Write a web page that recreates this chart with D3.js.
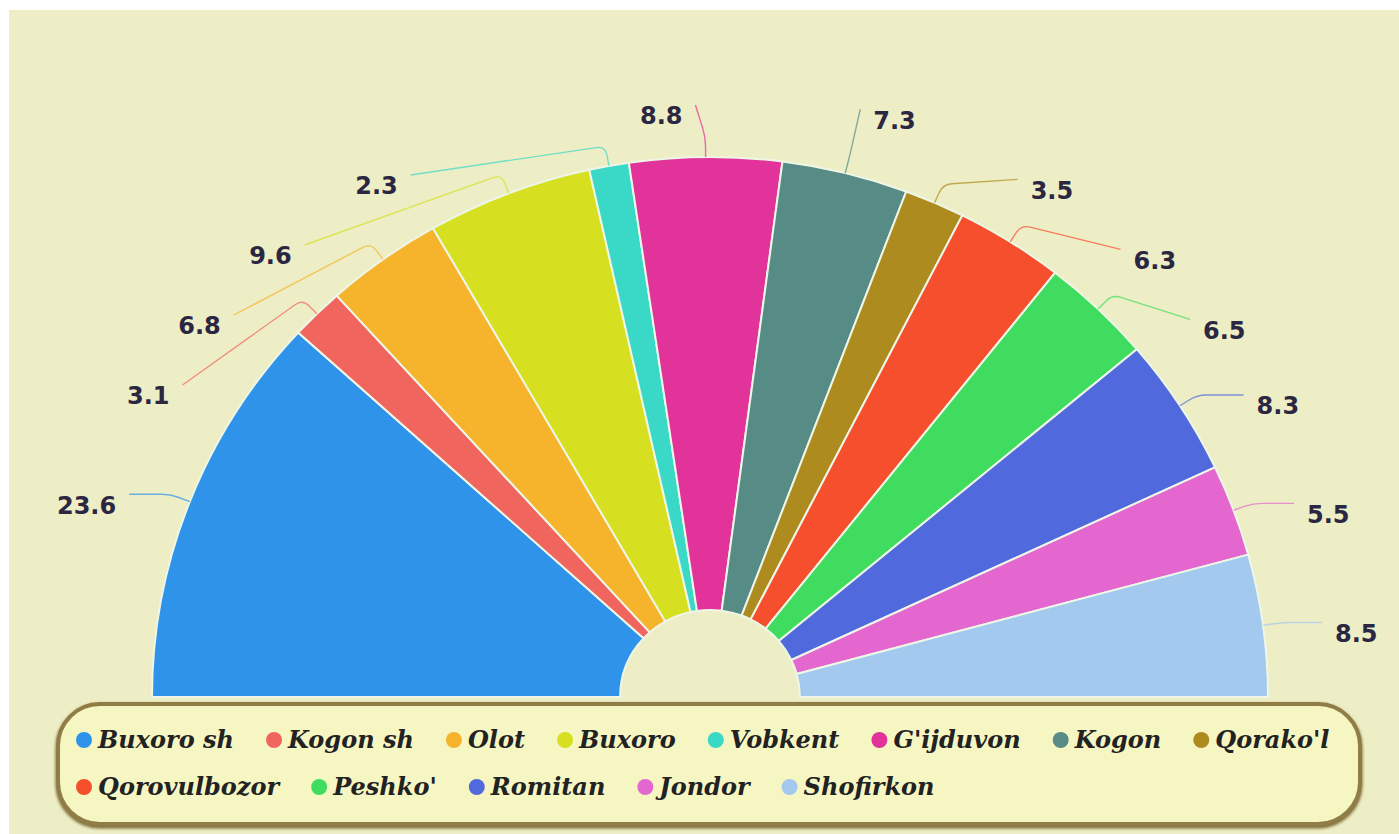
<!DOCTYPE html>
<html>
<head>
<script src="https://d3js.org/d3.v7.min.js"></script>
<style>
  body { margin: 0; background: #fff; }
  svg { display: block; }
</style>
</head>
<body>
<svg width="1399" height="834"></svg>
<script>

const districts = ["Buxoro sh", "Kogon sh", "Olot", "Buxoro", "Vobkent", "G'ijduvon", "Kogon",
                   "Qorako'l", "Qorovulbozor", "Peshko'", "Romitan", "Jondor", "Shofirkon"];
const shares = [23.6, 3.1, 6.8, 9.6, 2.3, 8.8, 7.3, 3.5, 6.3, 6.5, 8.3, 5.5, 8.5];
const colors = ["#2f93e9", "#f1655f", "#f6b42d", "#d6e021", "#3ad8c6", "#e2339b", "#568b86",
                "#ae8b1f", "#f64f2d", "#3fdc5f", "#5069dc", "#e467cf", "#a3c9ee"];

var svg = d3.select("svg"),
    width = +svg.attr("width"),
    height = +svg.attr("height");

// page background (white strip at top/left like the screenshot)
svg.append("rect").attr("width", width).attr("height", height).attr("fill", "#fff");
svg.append("rect").attr("x", 9).attr("y", 10)
    .attr("width", width - 9).attr("height", height - 10).attr("fill", "#eeeec6");

var cx = 710, cy = 697,
    R = 540, r0 = 87,
    kx = 558 / 540;      // the picture is a little wider than tall

var pie = d3.pie()
    .sort(null)
    .startAngle(-Math.PI / 2)
    .endAngle(Math.PI / 2)
    .value(function(d) { return d; });

var arc = d3.arc()
    .innerRadius(r0)
    .outerRadius(R);

var arcs = pie(shares);

var g = svg.append("g")
    .attr("transform", "translate(" + cx + "," + cy + ") scale(" + kx + ",1)");

g.selectAll(".slice")
    .data(arcs)
  .enter().append("path")
    .attr("class", "slice")
    .attr("d", arc)
    .attr("fill", function(d, i) { return colors[i]; })
    .attr("stroke", "#eef6e6")
    .attr("stroke-width", 2)
    .attr("vector-effect", "non-scaling-stroke");

// ---- outer labels with leader lines ----
var len1 = 20, gap = 70, topBound = cy - R - 52;
var ea = kx * (R + len1), eb = 585, len2 = 38;

function pt(a, rad) {
  return [cx + kx * rad * Math.sin(a), cy - rad * Math.cos(a)];
}

var labels = arcs.map(function(d, i) {
  var m = (d.startAngle + d.endAngle) / 2;
  return { i: i, m: m, dir: m < 0 ? -1 : 1, y0: cy - (R + len1) * Math.cos(m) };
});

function spread(items) {
  items.sort(function(a, b) { return a.y0 - b.y0; });
  var blocks = [];
  items.forEach(function(it, k) {
    var b = { sum: it.y0 - gap * k, n: 1, start: k };
    while (blocks.length) {
      var p = blocks[blocks.length - 1];
      if (p.sum / p.n < b.sum / b.n) break;
      blocks.pop();
      b = { sum: p.sum + b.sum, n: p.n + b.n, start: p.start };
    }
    blocks.push(b);
  });
  blocks.forEach(function(b) {
    var z = Math.max(b.sum / b.n, topBound);
    for (var k = b.start; k < b.start + b.n; k++) items[k].y = z + gap * k;
  });
}
spread(labels.filter(function(l) { return l.dir < 0; }));
spread(labels.filter(function(l) { return l.dir > 0; }));

labels.forEach(function(l) {
  var dy = cy - l.y;
  var radial = Math.abs(kx * (R + len1) * Math.sin(l.m));
  var off;
  if (dy < eb) {
    var ex = ea * Math.sqrt(1 - dy * dy / (eb * eb)) + len2;
    off = Math.max(ex, radial + 15);
  } else {
    off = radial + 10;   // topmost labels: line goes nearly straight up
  }
  l.x = cx + l.dir * off;
});

function leader(p0, p1, p2, rr) {
  var d1 = Math.hypot(p0[0] - p1[0], p0[1] - p1[1]),
      d2 = Math.hypot(p2[0] - p1[0], p2[1] - p1[1]),
      r1 = Math.min(rr, d1 / 2), r2 = Math.min(rr, d2 / 2);
  var p = d3.path();
  p.moveTo(p0[0], p0[1]);
  p.lineTo(p1[0] + (p0[0] - p1[0]) * r1 / d1, p1[1] + (p0[1] - p1[1]) * r1 / d1);
  p.quadraticCurveTo(p1[0], p1[1], p1[0] + (p2[0] - p1[0]) * r2 / d2, p1[1] + (p2[1] - p1[1]) * r2 / d2);
  p.lineTo(p2[0], p2[1]);
  return p.toString();
}

svg.append("g").selectAll("path")
    .data(labels)
  .enter().append("path")
    .attr("d", function(l) { return leader(pt(l.m, R), pt(l.m, R + len1), [l.x, l.y], 9); })
    .attr("fill", "none")
    .attr("stroke", function(l) { return colors[l.i]; })
    .attr("stroke-opacity", 0.7)
    .attr("stroke-width", 1.4);

svg.append("g").selectAll("text")
    .data(labels)
  .enter().append("text")
    .attr("x", function(l) { return l.x + l.dir * 13; })
    .attr("y", function(l) { return l.y + 11; })
    .attr("dy", "0.35em")
    .attr("text-anchor", function(l) { return l.dir < 0 ? "end" : "start"; })
    .style("font-family", "'DejaVu Sans', sans-serif")
    .style("font-weight", "bold")
    .style("font-size", "24px")
    .attr("fill", "#2b2742")
    .text(function(l) { return shares[l.i]; });

// ---- legend ----
var defs = svg.append("defs");
defs.append("filter").attr("id", "soft")
  .append("feGaussianBlur").attr("stdDeviation", 1.6);

var box = { x: 58, y: 704, w: 1302, h: 120, r: 42 };
svg.append("rect")
    .attr("x", box.x).attr("y", box.y + 2).attr("width", box.w).attr("height", box.h)
    .attr("rx", box.r)
    .attr("fill", "none").attr("stroke", "#7d6c38").attr("stroke-width", 5)
    .attr("filter", "url(#soft)");
svg.append("rect")
    .attr("x", box.x).attr("y", box.y).attr("width", box.w).attr("height", box.h)
    .attr("rx", box.r)
    .attr("fill", "#f6f6c2").attr("stroke", "#8f7d45").attr("stroke-width", 4);

var legend = svg.append("g");
var lx = 84, ly = 740, rowH = 47, itemGap = 40, maxX = 1366;
districts.forEach(function(name, i) {
  var item = legend.append("g");
  item.append("circle").attr("r", 8).attr("fill", colors[i]);
  var t = item.append("text")
      .attr("x", 14).attr("dy", "0.32em")
      .style("font-family", "'DejaVu Serif', serif")
      .style("font-style", "italic")
      .style("font-weight", "bold")
      .style("font-size", "24px")
      .attr("fill", "#222")
      .text(name);
  var w = 14 + t.node().getComputedTextLength();
  if (lx + w > maxX && lx > 84) { lx = 84; ly += rowH; }
  item.attr("transform", "translate(" + lx + "," + ly + ")");
  lx += w + itemGap;
});

</script>
</body>
</html>
